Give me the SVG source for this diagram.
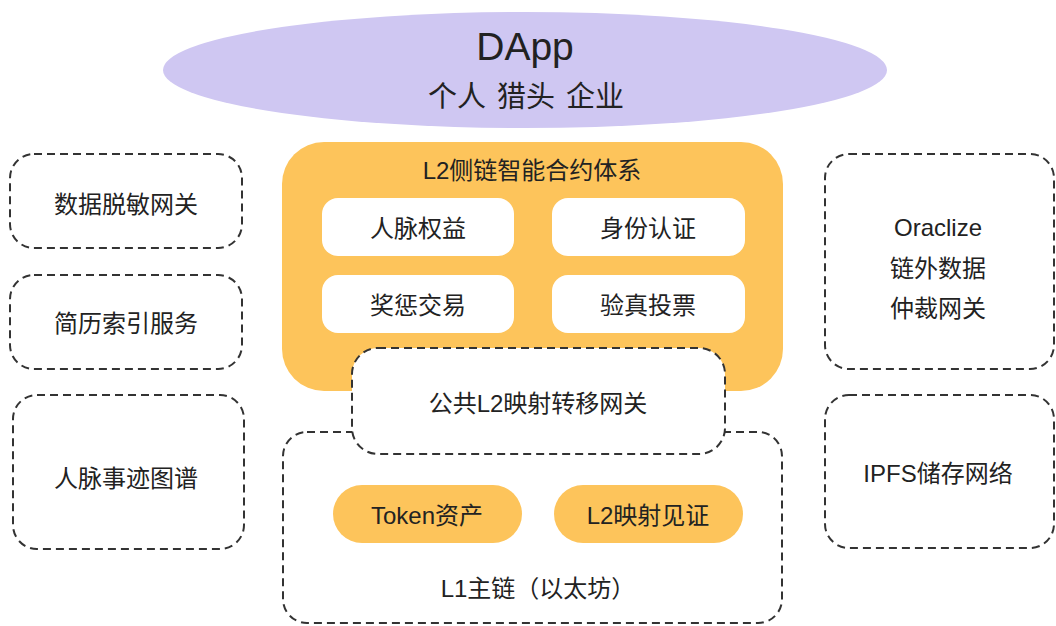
<svg xmlns="http://www.w3.org/2000/svg" width="1056" height="626" viewBox="0 0 1056 626">
<style>
.t{font-family:"Liberation Sans","Noto Sans CJK SC",sans-serif;font-size:24px;fill:#222;text-anchor:middle}
.dash{fill:#fff;stroke:#333;stroke-width:2;stroke-dasharray:8 5}
.white{fill:#fff}
.orange{fill:#FDC45B}
</style>
<rect width="1056" height="626" fill="#fff"/>
<g id="dapp">
<ellipse cx="525" cy="70" rx="362" ry="58" fill="#CFC7F2"/>
<text class="t" x="525" y="60" style="font-size:39px">DApp</text>
<text class="t" x="457" y="107" style="font-size:29px">个人</text>
<text class="t" x="526" y="107" style="font-size:29px">猎头</text>
<text class="t" x="595" y="107" style="font-size:29px">企业</text>
</g>
<g id="left1"><rect class="dash" x="10" y="154" width="232" height="94" rx="24"/><text class="t" x="126" y="213">数据脱敏网关</text></g>
<g id="left2"><rect class="dash" x="10" y="275" width="232" height="94" rx="24"/><text class="t" x="126" y="332">简历索引服务</text></g>
<g id="left3"><rect class="dash" x="13" y="395" width="231" height="154" rx="24"/><text class="t" x="126" y="487">人脉事迹图谱</text></g>
<g id="right1"><rect class="dash" x="825" y="154" width="229" height="215" rx="24"/>
<text class="t" x="938" y="236">Oraclize</text><text class="t" x="938" y="277">链外数据</text><text class="t" x="938" y="317">仲裁网关</text></g>
<g id="right2"><rect class="dash" x="825" y="395" width="229" height="153" rx="24"/><text class="t" x="938" y="482">IPFS储存网络</text></g>
<g id="l2">
<rect class="orange" x="282" y="142" width="501" height="249" rx="42"/>
<text class="t" x="532" y="179">L2侧链智能合约体系</text>
</g>
<g id="renmai"><rect class="white" x="322" y="198" width="192" height="58" rx="16"/><text class="t" x="418" y="237">人脉权益</text></g>
<g id="shenfen"><rect class="white" x="552" y="198" width="193" height="58" rx="16"/><text class="t" x="648" y="237">身份认证</text></g>
<g id="jiangcheng"><rect class="white" x="322" y="275" width="192" height="58" rx="16"/><text class="t" x="418" y="314">奖惩交易</text></g>
<g id="yanzhen"><rect class="white" x="552" y="275" width="193" height="58" rx="16"/><text class="t" x="648" y="314">验真投票</text></g>
<g id="l1">
<rect class="dash" x="283" y="432" width="499" height="191" rx="24"/>
<text class="t" x="538" y="597">L1主链（以太坊）</text>
</g>
<g id="gateway"><rect class="dash" x="352" y="348" width="373" height="106" rx="26"/><text class="t" x="538" y="412">公共L2映射转移网关</text></g>
<g id="token"><rect class="orange" x="333" y="485" width="189" height="58" rx="29"/><text class="t" x="427" y="524">Token资产</text></g>
<g id="witness"><rect class="orange" x="554" y="485" width="189" height="58" rx="29"/><text class="t" x="648" y="524">L2映射见证</text></g>
<g id="connectors"></g>
</svg>
